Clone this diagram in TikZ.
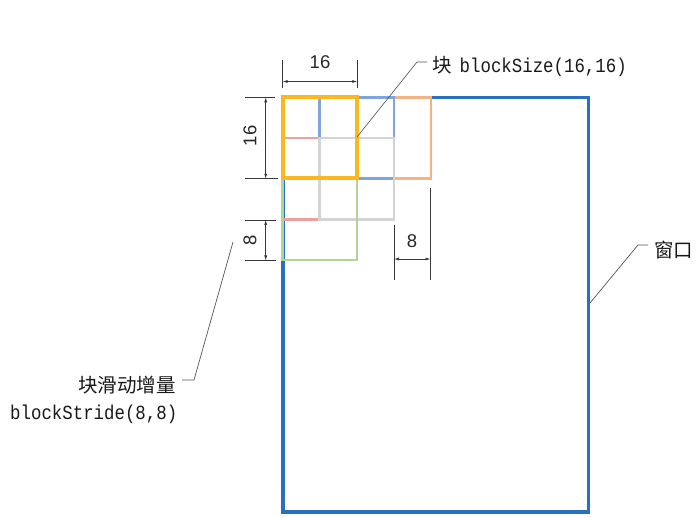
\documentclass[tikz,border=0pt]{standalone}
\usepackage{fontspec}
\usepackage{graphicx}
\setmainfont{Liberation Sans}
\newfontfamily\cjk{Noto Sans CJK SC}
\newfontfamily\mono{Liberation Mono}
\usetikzlibrary{arrows.meta}
\definecolor{winblue}{RGB}{40,112,196}
\definecolor{gold}{RGB}{250,184,30}
\definecolor{lblue}{RGB}{128,164,222}
\definecolor{peach}{RGB}{245,178,130}
\definecolor{pinkr}{RGB}{236,160,160}
\definecolor{lgray}{RGB}{212,212,212}
\definecolor{lgreen}{RGB}{178,212,148}
\definecolor{dimc}{RGB}{55,55,55}
\begin{document}
\begin{tikzpicture}[x=1pt,y=-1pt,
  blk/.style={line width=2.8pt},
  dimline/.style={draw=dimc,line width=0.7pt},
  dimarrow/.style={dimline,{Latex[length=5pt,width=3pt]}-{Latex[length=5pt,width=3pt]}},
  leader/.style={draw=dimc!85,line width=0.7pt},
  numtxt/.style={font=\fontsize{18.5}{21}\selectfont,inner sep=0pt,text=black!85},
  cjktxt/.style={font=\cjk\fontsize{19.5}{22}\selectfont,inner sep=0pt,text=black!90},
  monotxt/.style={font=\mono\fontsize{17.4}{20}\selectfont,inner sep=0pt,text=black!90}
]
\useasboundingbox (0,0) rectangle (699,518);
\fill[white] (0,0) rectangle (699,518);

% window
\draw[winblue,line width=3.2pt] (283,97.5) rectangle (588.5,512);

% blocks
\draw[blk,peach] (357,97.5) rectangle (431,178.5);
\draw[blk,pinkr] (282.5,138) rectangle (357,219.5);
\draw[blk,lblue] (319.5,97.5) rectangle (394,178.5);
\draw[blk,lgray] (319.5,138) rectangle (394,219.5);
\draw[blk,lgreen] (282.5,178.5) rectangle (357,260);
\draw[gold,line width=4pt] (282.5,97.5) rectangle (357,178.5);

% top 16
\coordinate (t1a) at (282.5,60); \coordinate (t1b) at (282.5,88);
\coordinate (t2a) at (357.3,60); \coordinate (t2b) at (357.3,88);
\draw[dimline] (t1a) -- (t1b);
\draw[dimline] (t2a) -- (t2b);
\coordinate (ta) at (282.5,81.5); \coordinate (tb) at (357.3,81.5);
\draw[dimarrow] (ta) -- (tb);
\node[numtxt] (n16t) at (320,62.5) {16};

% left 16
\coordinate (l1a) at (245,97.3); \coordinate (l1b) at (275,97.3);
\coordinate (l2a) at (245,178.8); \coordinate (l2b) at (278,178.8);
\draw[dimline] (l1a) -- (l1b);
\draw[dimline] (l2a) -- (l2b);
\coordinate (la) at (265.7,97.3); \coordinate (lb) at (265.7,178.8);
\draw[dimarrow] (la) -- (lb);
\node[numtxt,rotate=90] (n16l) at (250,136) {16};

% left 8
\coordinate (m1a) at (245,220); \coordinate (m1b) at (276,220);
\coordinate (m2a) at (245,260.5); \coordinate (m2b) at (276,260.5);
\draw[dimline] (m1a) -- (m1b);
\draw[dimline] (m2a) -- (m2b);
\coordinate (ma) at (265.7,220); \coordinate (mb) at (265.7,260.5);
\draw[dimarrow] (ma) -- (mb);
\node[numtxt,rotate=90] (n8l) at (250,240) {8};

% right 8
\coordinate (r1a) at (394,225); \coordinate (r1b) at (394,280);
\coordinate (r2a) at (430.5,188); \coordinate (r2b) at (430.5,280);
\draw[dimline] (r1a) -- (r1b);
\draw[dimline] (r2a) -- (r2b);
\coordinate (ra) at (394,259); \coordinate (rb) at (430.5,259);
\draw[dimarrow] (ra) -- (rb);
\node[numtxt] (n8r) at (412,241.5) {8};

% labels
\node[anchor=west,inner sep=0pt,text=black!90] (bs) at (432,66) {{\cjk\fontsize{19.5}{22}\selectfont 块}\hspace{8pt}\scalebox{1}[1.15]{\mono\fontsize{17.4}{20}\selectfont blockSize(16,16)}};
\node[cjktxt,anchor=west] (win) at (654,250) {窗口};
\node[cjktxt,anchor=east] (stride) at (176,385) {块滑动增量};
\node[anchor=west,inner sep=0pt,text=black!90] (stride2) at (10,414) {\scalebox{1}[1.15]{\mono\fontsize{17.4}{20}\selectfont blockStride(8,8)}};

% leaders
\coordinate (bsp) at (357,137);
\coordinate (bsk) at (417,62);
\coordinate (bse) at (427,62);
\draw[leader] (bsp) -- (bsk) -- (bse);
\coordinate (wp) at (590,303);
\coordinate (wk) at (638,245);
\coordinate (we) at (648,245);
\draw[leader] (wp) -- (wk) -- (we);
\coordinate (sp) at (233,242);
\coordinate (sk) at (194,380);
\coordinate (se) at (182,380);
\draw[leader] (sp) -- (sk) -- (se);
\end{tikzpicture}
\end{document}
